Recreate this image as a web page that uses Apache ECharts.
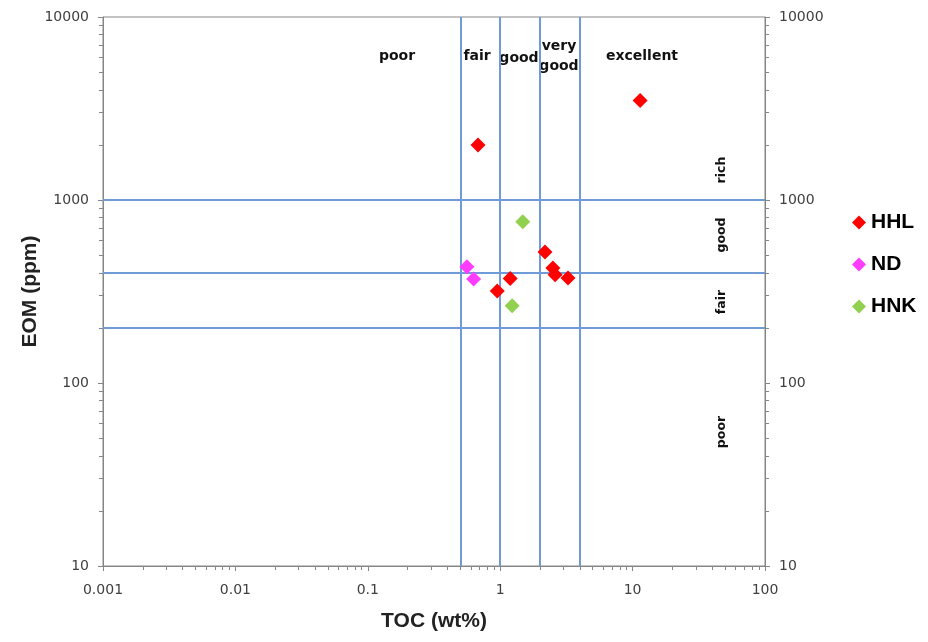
<!DOCTYPE html>
<html>
<head>
<meta charset="utf-8">
<script src="https://cdn.jsdelivr.net/npm/echarts@6/dist/echarts.min.js"></script>
<style>
    html, body { margin: 0; padding: 0; background: #fff; }
    #chart { width: 928px; height: 642px; }
</style>
</head>
<body>
<div id="chart"></div>
<script>
    // samples, [TOC wt%, EOM ppm]
    const hhl = [[0.68, 2000], [11.4, 3500], [2.18, 520], [2.5, 425], [2.6, 390], [3.25, 375], [1.19, 372], [0.95, 318]]
    const nd = [[0.56, 432], [0.63, 370]]
    const hnk = [[1.48, 760], [1.23, 264]]

    // classification limits
    const tocLimits = [0.5, 1, 2, 4]
    const eomLimits = [200, 400, 1000]

    const tocClasses = ['poor', 'fair', 'good', 'very\ngood', 'excellent']
    const eomClasses = ['rich', 'good', 'fair', 'poor']

    const axisColor = '#868686'
    const limitColor = '#6f9bd8'
    const labelColor = '#404040'

    let chart = echarts.init(document.getElementById('chart'))

    let limitLines = {
        silent: true,
        symbol: 'none',
        label: { show: false },
        lineStyle: { color: limitColor, width: 2, type: 'solid' },
        data: tocLimits.map(v => ({ xAxis: v })).concat(eomLimits.map(v => ({ yAxis: v })))
    }

    // class names, placed in pixels
    let topX = [397, 477, 519, 559, 642]
    let topY = [56, 56, 58, 56, 56]
    let sideY = [170, 235, 302, 432]
    let graphics = []
    tocClasses.forEach((t, i) => {
        graphics.push({
            type: 'text', x: topX[i], y: topY[i],
            style: { text: t, font: 'bold 14px "DejaVu Sans"', fill: '#111', align: 'center', verticalAlign: 'middle', lineHeight: 20 }
        })
    })
    eomClasses.forEach((t, i) => {
        graphics.push({
            type: 'text', x: 722, y: sideY[i], rotation: Math.PI / 2,
            style: { text: t, font: 'bold 12.5px "DejaVu Sans"', fill: '#111', align: 'center', verticalAlign: 'middle' }
        })
    })

    let tickFont = { color: labelColor, fontSize: 14, fontFamily: '"DejaVu Sans"' }
    let titleFont = { fontSize: 21, fontWeight: 'bold', color: '#222', fontFamily: '"Liberation Sans", Arial' }

    let yCommon = {
        type: 'log',
        logBase: 10,
        min: 10,
        max: 10000,
        axisLine: { show: true, lineStyle: { color: axisColor, width: 1 } },
        axisTick: { show: true, length: 5, lineStyle: { color: axisColor } },
        minorTick: { show: true, splitNumber: 9, length: 4, lineStyle: { color: axisColor } },
        splitLine: { show: false },
        axisLabel: Object.assign({ margin: 14, formatter: v => String(v) }, tickFont)
    }

    let options = {
        animation: false,
        textStyle: { fontFamily: '"Liberation Sans", Arial' },
        grid: {
            left: 103, right: 163, top: 17, bottom: 76,
            show: true, borderColor: axisColor, borderWidth: 1
        },
        legend: {
            orient: 'vertical',
            left: 847,
            top: 207,
            itemGap: 21,
            icon: 'diamond',
            itemWidth: 14,
            itemHeight: 14,
            textStyle: { fontSize: 21, fontWeight: 'bold', color: '#000', fontFamily: '"Liberation Sans", Arial' },
            data: ['HHL', 'ND', 'HNK']
        },
        xAxis: {
            type: 'log',
            logBase: 10,
            min: 0.001,
            max: 100,
            name: 'TOC (wt%)',
            nameLocation: 'middle',
            nameGap: 45,
            nameMoveOverlap: false,
            nameTextStyle: titleFont,
            axisLine: { show: true, lineStyle: { color: axisColor } },
            axisTick: { show: true, length: 5, lineStyle: { color: axisColor } },
            minorTick: { show: true, splitNumber: 9, length: 4, lineStyle: { color: axisColor } },
            splitLine: { show: false },
            axisLabel: Object.assign({ margin: 17, formatter: v => String(v) }, tickFont)
        },
        yAxis: [
            Object.assign({}, yCommon, {
                position: 'left',
                name: 'EOM (ppm)',
                nameLocation: 'middle',
                nameRotate: 90,
                nameGap: 62,
                nameMoveOverlap: false,
                nameTextStyle: titleFont
            }),
            Object.assign({}, yCommon, { position: 'right' })
        ],
        graphic: graphics,
        series: [
            {
                name: 'HHL', type: 'scatter', symbol: 'diamond', symbolSize: 15,
                itemStyle: { color: '#ff0000', opacity: 1 }, data: hhl, z: 5,
                markLine: limitLines
            },
            {
                name: 'ND', type: 'scatter', symbol: 'diamond', symbolSize: 15,
                itemStyle: { color: '#ff3cff', opacity: 1 }, data: nd, z: 5
            },
            {
                name: 'HNK', type: 'scatter', symbol: 'diamond', symbolSize: 15,
                itemStyle: { color: '#92d050', opacity: 1 }, data: hnk, z: 5
            }
        ]
    }
    chart.setOption(options)
</script>
</body>
</html>
